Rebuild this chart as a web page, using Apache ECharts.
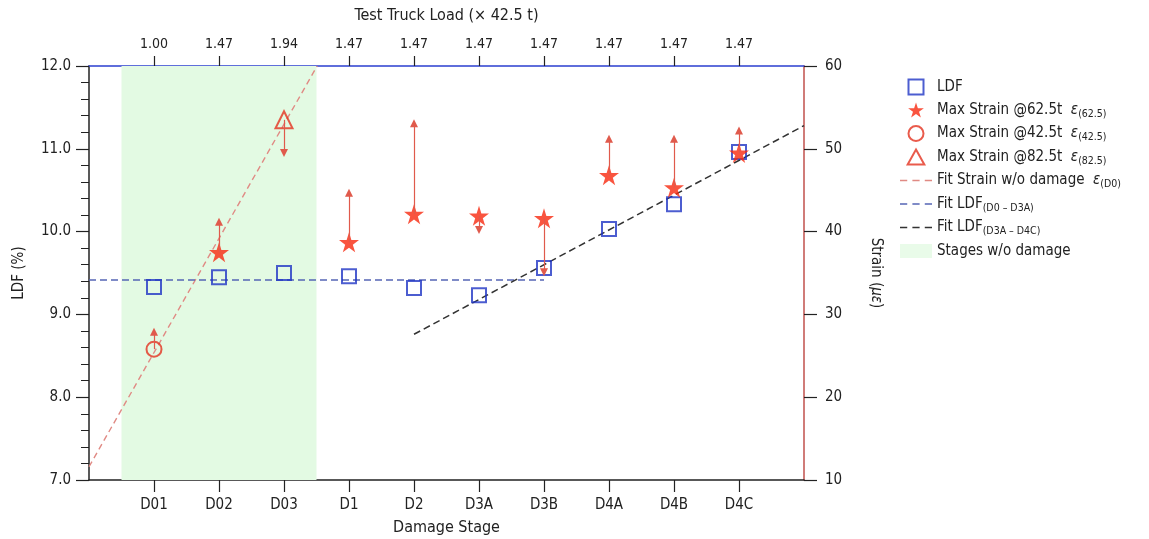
<!DOCTYPE html>
<html>
<head>
<meta charset="utf-8">
<script src="https://cdn.jsdelivr.net/npm/echarts@6/dist/echarts.min.js"></script>
<style>
  html, body { margin: 0; padding: 0; background: #fff; }
  #chart { width: 1149px; height: 539px; }
</style>
</head>
<body>
<div id="chart"></div>
<script>
// damage stages (bottom axis) and truck load factors (top axis)
const stages = ['D01', 'D02', 'D03', 'D1', 'D2', 'D3A', 'D3B', 'D4A', 'D4B', 'D4C'];
const loadFactors = ['1.00', '1.47', '1.94', '1.47', '1.47', '1.47', '1.47', '1.47', '1.47', '1.47'];

// LDF (%) - left axis
const ldf = [9.33, 9.45, 9.50, 9.46, 9.32, 9.23, 9.56, 10.03, 10.33, 10.96];

// max strain (micro strain) - right axis
const strain625 = [null, 37.5, null, 38.7, 42.1, 41.9, 41.6, 46.8, 45.3, 49.5];
const strain425 = [25.8, null, null, null, null, null, null, null, null, null];
const strain825 = [null, null, 53.5, null, null, null, null, null, null, null];
// arrow tips from each strain marker
const arrowTo = [27.9, 41.2, 49.5, 44.7, 53.1, 40.2, 35.1, 51.2, 51.2, 52.2];

// fitted lines, [stage index, value]
const fitStrain = [[-1, 11.6], [2.51, 60]];
const fitLdfA = [[-1, 9.415], [6, 9.415]];
const fitLdfB = [[4, 8.76], [10, 11.28]];

// stages without damage (shaded)
const undamagedSpan = [-0.5, 2.5];

const stageIdx = stages.map((s, i) => i);
const toPairs = arr => arr.map((v, i) => [i, v]).filter(p => p[1] != null);
const markerStrain = stages.map((s, i) => strain625[i] ?? strain425[i] ?? strain825[i]);

const FONT = '"DejaVu Sans Condensed", "DejaVu Sans"';
const TXT = '#222';
const starPath = 'path://M50,0L61.23,34.55L97.55,34.55L68.16,55.9L79.39,90.45L50,69.1L20.61,90.45L31.84,55.9L2.45,34.55L38.77,34.55Z';
const dashIcon = 'path://M0,0H7V1.6H0Z M12,0H19V1.6H12Z M24,0H31V1.6H24Z';

const legendText = {
  'LDF': 'LDF',
  'Max Strain @62.5t': 'Max Strain @62.5t  {e|ε}{s|(62.5)}',
  'Max Strain @42.5t': 'Max Strain @42.5t  {e|ε}{s|(42.5)}',
  'Max Strain @82.5t': 'Max Strain @82.5t  {e|ε}{s|(82.5)}',
  'Fit Strain w/o damage': 'Fit Strain w/o damage  {e|ε}{s|(D0)}',
  'Fit LDF D0-D3A': 'Fit LDF{s|(D0 – D3A)}',
  'Fit LDF D3A-D4C': 'Fit LDF{s|(D3A – D4C)}',
  'Stages w/o damage': 'Stages w/o damage'
};
const legendIcons = {
  'LDF': 'path://M0,0H10V10H0Z',
  'Max Strain @82.5t': 'path://M5,0L10,9L0,9Z',
  'Fit Strain w/o damage': dashIcon,
  'Fit LDF D0-D3A': dashIcon,
  'Fit LDF D3A-D4C': dashIcon,
  'Stages w/o damage': 'path://M0,0H32V14H0Z'
};

const chart = echarts.init(document.getElementById('chart'));

const option = {
  animation: false,
  textStyle: { fontFamily: FONT },
  grid: { left: 89, right: 345, top: 66, bottom: 59, outerBoundsMode: 'none', containLabel: false },
  legend: {
    orient: 'vertical',
    left: 895,
    top: 73,
    itemWidth: 32,
    itemHeight: 15,
    itemGap: 5,
    data: Object.keys(legendText).map(n => legendIcons[n] ? { name: n, icon: legendIcons[n] } : n),
    formatter: name => legendText[name],
    textStyle: {
      fontSize: 15,
      color: TXT,
      lineHeight: 18,
      rich: {
        e: { fontSize: 15, fontStyle: 'italic', color: TXT },
        s: { fontSize: 10.5, color: TXT, padding: [8, 0, 0, 0] }
      }
    }
  },
  xAxis: [
    {
      type: 'value', position: 'bottom', min: -1, max: 10,
      name: 'Damage Stage', nameLocation: 'middle', nameGap: 40,
      nameTextStyle: { fontSize: 16, color: TXT },
      axisLine: { onZero: false, lineStyle: { color: TXT, width: 1.5 } },
      axisTick: { customValues: stageIdx, length: 12, lineStyle: { color: TXT, width: 1.2 } },
      axisLabel: { customValues: stageIdx, formatter: v => stages[v], margin: 18, fontSize: 15, color: TXT },
      splitLine: { show: false }
    },
    {
      type: 'value', position: 'top', min: -1, max: 10,
      name: 'Test Truck Load (× 42.5 t)', nameLocation: 'middle', nameGap: 42,
      nameTextStyle: { fontSize: 16, color: TXT },
      axisLine: { onZero: false, lineStyle: { color: '#2b3fd0', width: 1.5 } },
      axisTick: { customValues: stageIdx, length: 10, lineStyle: { color: TXT, width: 1.2 } },
      axisLabel: { customValues: stageIdx, formatter: v => loadFactors[v], margin: 15, fontSize: 14, color: TXT },
      splitLine: { show: false }
    }
  ],
  yAxis: [
    {
      type: 'value', position: 'left', min: 7, max: 12, interval: 1,
      name: 'LDF (%)', nameLocation: 'middle', nameGap: 62, nameRotate: 90,
      nameTextStyle: { fontSize: 15, color: TXT },
      axisLine: { show: true, onZero: false, lineStyle: { color: TXT, width: 1.5 } },
      axisTick: { show: true, length: 13, lineStyle: { color: TXT, width: 1.2 } },
      minorTick: { show: true, splitNumber: 5, length: 8, lineStyle: { color: TXT, width: 1 } },
      axisLabel: { formatter: v => v.toFixed(1), fontSize: 15, color: TXT, margin: 18 },
      splitLine: { show: false }
    },
    {
      type: 'value', position: 'right', min: 10, max: 60, interval: 10,
      name: 'Strain ({i|με})', nameLocation: 'middle', nameGap: 64, nameRotate: -90,
      nameTextStyle: { fontSize: 15, color: TXT, rich: { i: { fontSize: 15, fontStyle: 'italic', color: TXT } } },
      axisLine: { show: true, onZero: false, lineStyle: { color: '#c0504d', width: 1.5 } },
      axisTick: { show: true, length: 13, lineStyle: { color: TXT, width: 1.2 } },
      axisLabel: { fontSize: 15, color: TXT, margin: 21 },
      splitLine: { show: false }
    }
  ],
  series: [
    {
      name: 'Stages w/o damage', type: 'scatter', data: [], z: 0,
      itemStyle: { color: '#e3fae3' },
      markArea: {
        silent: true,
        itemStyle: { color: '#e3fae3' },
        data: [[{ xAxis: undamagedSpan[0] }, { xAxis: undamagedSpan[1] }]]
      }
    },
    {
      name: 'Fit Strain w/o damage', type: 'line', yAxisIndex: 1, data: fitStrain,
      symbol: 'none', z: 1, silent: true,
      itemStyle: { color: '#e08a84' },
      lineStyle: { color: '#e08a84', width: 1.4, type: [6, 4] }
    },
    {
      name: 'Fit LDF D0-D3A', type: 'line', data: fitLdfA,
      symbol: 'none', z: 1, silent: true,
      itemStyle: { color: '#5565b5' },
      lineStyle: { color: '#5565b5', width: 1.5, type: [7, 4] }
    },
    {
      name: 'Fit LDF D3A-D4C', type: 'line', data: fitLdfB,
      symbol: 'none', z: 1, silent: true,
      itemStyle: { color: '#333' },
      lineStyle: { color: '#333', width: 1.5, type: [7, 4] }
    },
    {
      name: 'arrows', type: 'line', yAxisIndex: 1, data: [], z: 2,
      markLine: {
        silent: true,
        symbol: ['none', 'triangle'],
        symbolSize: 8,
        label: { show: false },
        lineStyle: { color: '#e05a4c', width: 1.2, type: 'solid' },
        data: stages.map((s, i) => [
          { coord: [i, markerStrain[i]] },
          { coord: [i, arrowTo[i]] }
        ])
      }
    },
    {
      name: 'LDF', type: 'scatter', data: toPairs(ldf), z: 3,
      symbol: 'rect', symbolSize: 14,
      itemStyle: { color: 'rgba(255,255,255,0)', borderColor: '#1f35c4', borderWidth: 2 }
    },
    {
      name: 'Max Strain @62.5t', type: 'scatter', yAxisIndex: 1, data: toPairs(strain625), z: 4,
      symbol: starPath, symbolSize: 20,
      itemStyle: { color: '#f8290f' }
    },
    {
      name: 'Max Strain @42.5t', type: 'scatter', yAxisIndex: 1, data: toPairs(strain425), z: 4,
      symbol: 'circle', symbolSize: 15,
      itemStyle: { color: 'rgba(255,255,255,0)', borderColor: '#e3321f', borderWidth: 2 }
    },
    {
      name: 'Max Strain @82.5t', type: 'scatter', yAxisIndex: 1, data: toPairs(strain825), z: 4,
      symbol: 'triangle', symbolSize: 17,
      itemStyle: { color: 'rgba(255,255,255,0)', borderColor: '#e3321f', borderWidth: 2 }
    }
  ]
};

chart.setOption(option);
</script>
</body>
</html>
